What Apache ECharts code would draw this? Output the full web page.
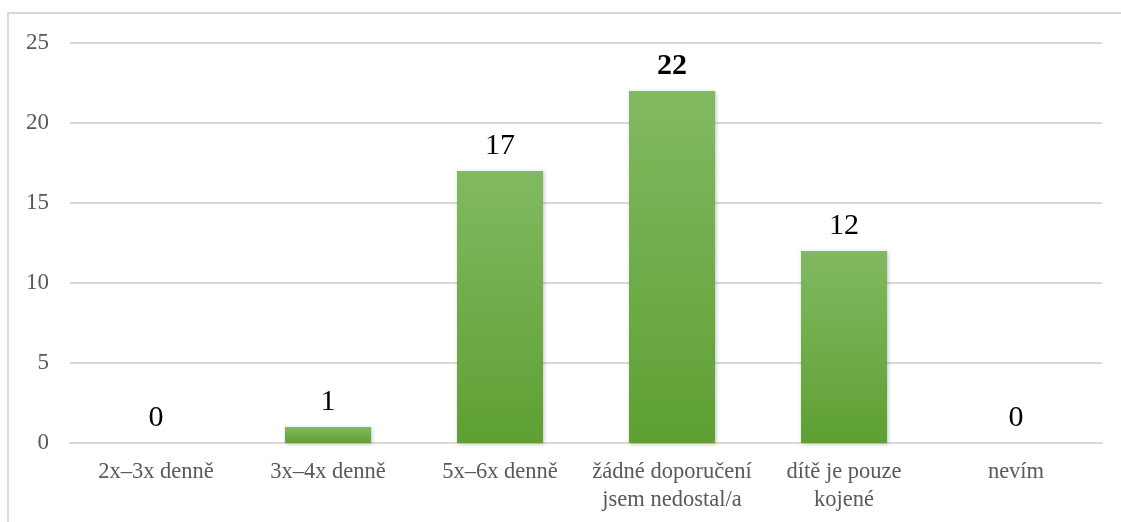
<!DOCTYPE html>
<html>
<head>
<meta charset="utf-8">
<script src="https://cdn.jsdelivr.net/npm/echarts@6/dist/echarts.min.js"></script>
<style>
html,body{margin:0;padding:0;background:#fff;}
#chart{width:1121px;height:522px;}
</style>
</head>
<body>
<div id="chart"></div>
<script>
var categories = ['2x\u20133x denně', '3x\u20134x denně', '5x\u20136x denně', 'žádné doporučení\njsem nedostal/a', 'dítě je pouze\nkojené', 'nevím'];
var values = [0, 1, 17, 22, 12, 0];
var boldIndex = 3;
var yTicks = [0, 5, 10, 15, 20, 25];

var chart = echarts.init(document.getElementById('chart'));
var serif = '"Liberation Serif", "Times New Roman", serif';
chart.setOption({
  animation: false,
  backgroundColor: '#fff',
  graphic: [{
    type: 'rect',
    shape: {x: 8, y: 13, width: 1200, height: 600},
    style: {fill: 'none', stroke: '#d9d9d9', lineWidth: 2},
    silent: true
  }],
  grid: {left: 70, right: 19, top: 43, bottom: 79, containLabel: false},
  xAxis: {
    type: 'category',
    data: categories,
    axisLine: {show: true, lineStyle: {color: '#d9d9d9', width: 2}},
    axisTick: {show: false},
    axisLabel: {color: '#595959', fontFamily: serif, fontSize: 22.5, lineHeight: 28, margin: 15, interval: 0}
  },
  yAxis: {
    type: 'value',
    min: yTicks[0],
    max: yTicks[yTicks.length - 1],
    interval: 5,
    axisLine: {show: false},
    axisTick: {show: false},
    splitLine: {lineStyle: {color: '#d9d9d9', width: 2}},
    axisLabel: {color: '#595959', fontFamily: serif, fontSize: 23, margin: 21}
  },
  series: [{
    type: 'bar',
    barWidth: '50%',
    data: values.map(function (v, i) {
      return i === boldIndex ? {value: v, label: {fontWeight: 'bold'}} : v;
    }),
    itemStyle: {
      color: new echarts.graphic.LinearGradient(0, 0, 0, 1, [
        {offset: 0, color: '#81b961'},
        {offset: 1, color: '#5ea033'}
      ]),
      shadowColor: 'rgba(0,0,0,0.25)',
      shadowBlur: 4,
      shadowOffsetX: 1,
      shadowOffsetY: 1
    },
    label: {
      show: true,
      position: 'top',
      distance: 10,
      color: '#000',
      fontFamily: serif,
      fontSize: 30
    }
  }]
});
</script>
</body>
</html>
